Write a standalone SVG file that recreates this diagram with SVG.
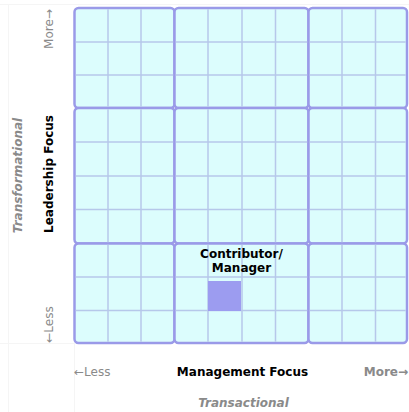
<svg xmlns="http://www.w3.org/2000/svg" width="409" height="412" viewBox="0 0 409 412">
<style>
.blk{fill:#dcfdfd;stroke:#9a9ae8;stroke-width:2.5}
.minor{stroke:#b6c8ea;stroke-width:1.5;fill:none}
.faint{stroke:#f5f5f5;stroke-width:1;fill:none}
.t{font-family:"DejaVu Sans",Verdana,sans-serif;font-size:12px}
.b{font-weight:bold}
.g{fill:#8a8a8a}
.k{fill:#000}
.it{font-style:italic}
</style>
<rect width="409" height="412" fill="#fff"/>
<g id="frame">
<path class="faint" d="M8.5 4V412M0 4.5H409M74.5 343V412M0 343.5H74"/>
</g>
<g id="grid">
<rect class="blk" x="74.5" y="8" width="100" height="100" rx="4"/>
<rect class="blk" x="174.5" y="8" width="134" height="100" rx="4"/>
<rect class="blk" x="308.5" y="8" width="98.5" height="100" rx="4"/>
<rect class="blk" x="74.5" y="108" width="100" height="135.5" rx="4"/>
<rect class="blk" x="174.5" y="108" width="134" height="135.5" rx="4"/>
<rect class="blk" x="308.5" y="108" width="98.5" height="135.5" rx="4"/>
<rect class="blk" x="74.5" y="243.5" width="100" height="99.5" rx="4"/>
<rect class="blk" x="174.5" y="243.5" width="134" height="99.5" rx="4"/>
<rect class="blk" x="308.5" y="243.5" width="98.5" height="99.5" rx="4"/>
<path class="minor" d="M108 9.3V106.7M141 9.3V106.7M208 9.3V106.7M242 9.3V106.7M275.5 9.3V106.7M342 9.3V106.7M375.5 9.3V106.7
M108 109.3V242.2M141 109.3V242.2M208 109.3V242.2M242 109.3V242.2M275.5 109.3V242.2M342 109.3V242.2M375.5 109.3V242.2
M108 244.8V341.7M141 244.8V341.7M208 244.8V341.7M242 244.8V341.7M275.5 244.8V341.7M342 244.8V341.7M375.5 244.8V341.7
M75.8 42H173.2M175.8 42H307.2M309.8 42H405.7M75.8 75H173.2M175.8 75H307.2M309.8 75H405.7
M75.8 142H173.2M175.8 142H307.2M309.8 142H405.7M75.8 176H173.2M175.8 176H307.2M309.8 176H405.7M75.8 209.5H173.2M175.8 209.5H307.2M309.8 209.5H405.7
M75.8 277H173.2M175.8 277H307.2M309.8 277H405.7M75.8 310.5H173.2M175.8 310.5H307.2M309.8 310.5H405.7"/>
</g>
<g id="node-contributor-manager">
<rect x="208" y="281" width="33" height="30" fill="#9c9cf0"/>
<text class="t b k" x="241.5" y="258" text-anchor="middle" font-size="12.5">Contributor/</text>
<text class="t b k" x="241.5" y="272" text-anchor="middle" font-size="12.5">Manager</text>
</g>
<g id="axis-y">
<text class="t b it g" transform="translate(21.5,175.5) rotate(-90)" text-anchor="middle">Transformational</text>
<text class="t b k" transform="translate(53,174) rotate(-90)" text-anchor="middle">Leadership Focus</text>
<text class="t g" transform="translate(53,29) rotate(-90)" text-anchor="middle" font-size="11.5">More→</text>
<text class="t g" transform="translate(53,324.5) rotate(-90)" text-anchor="middle" font-size="11.5">←Less</text>
</g>
<g id="axis-x">
<text class="t g" x="74" y="376">←Less</text>
<text class="t b k" x="242.5" y="376" text-anchor="middle">Management Focus</text>
<text class="t b g" x="408" y="376" text-anchor="end" font-size="11.5">More→</text>
<text class="t b it g" x="243.5" y="406.5" text-anchor="middle">Transactional</text>
</g>
</svg>
